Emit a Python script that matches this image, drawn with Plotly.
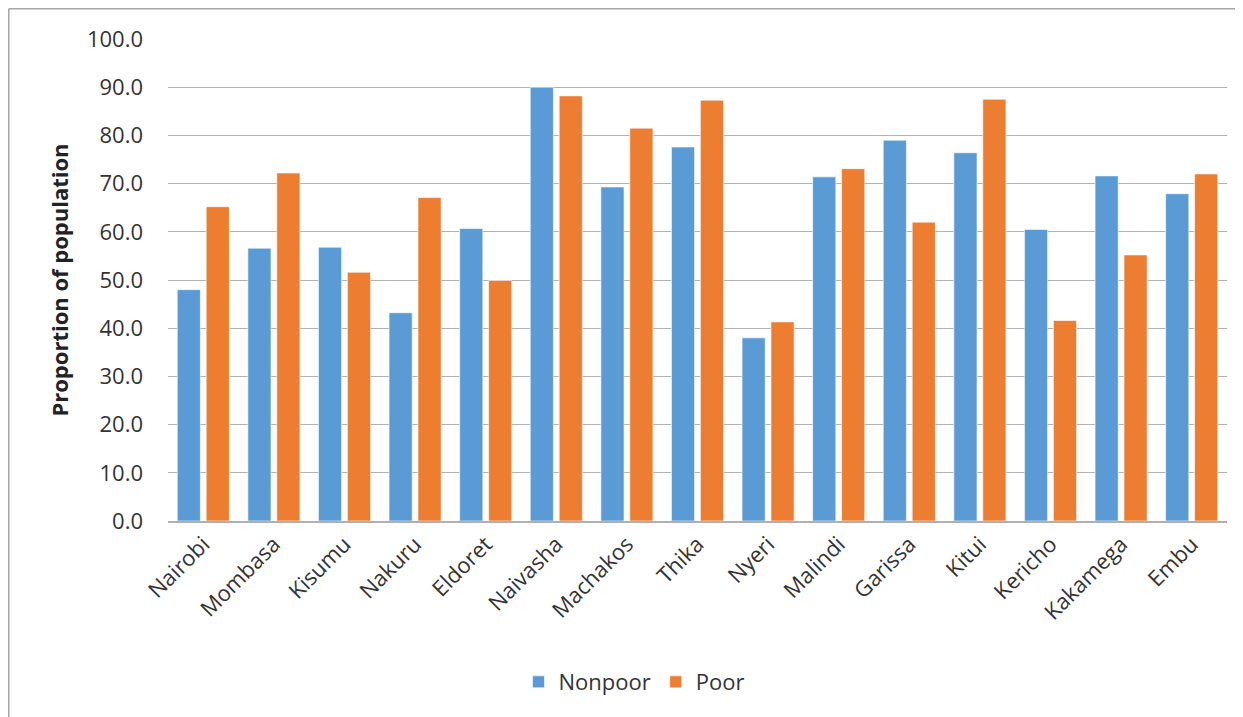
import plotly.graph_objects as go

cities = ["Nairobi", "Mombasa", "Kisumu", "Nakuru", "Eldoret", "Naivasha", "Machakos",
          "Thika", "Nyeri", "Malindi", "Garissa", "Kitui", "Kericho", "Kakamega", "Embu"]
nonpoor = [48.0, 56.6, 56.8, 43.2, 60.7, 90.0, 69.3, 77.6, 38.0, 71.4, 79.0, 76.4, 60.5, 71.6, 67.9]
poor = [65.2, 72.2, 51.6, 67.1, 49.9, 88.2, 81.5, 87.3, 41.3, 73.1, 62.0, 87.5, 41.6, 55.2, 72.0]
yticks = [0, 10, 20, 30, 40, 50, 60, 70, 80, 90, 100]

font_family = "Open Sans"
txt = "#333333"

fig = go.Figure()
fig.add_trace(go.Bar(name="Nonpoor", x=cities, y=nonpoor, marker=dict(color="#5B9BD5", line=dict(color="#FFFFFF", width=0.6))))
fig.add_trace(go.Bar(name="Poor", x=cities, y=poor, marker=dict(color="#ED7D31", line=dict(color="#FFFFFF", width=0.6))))

# page is offset by the 8px default body margin
OFF = 8
W, H = 1243, 717
L, T = 168 - OFF, 39 - OFF
R = W - (1227 - OFF)
B = H - (521 - OFF)
pw = W - L - R
ph = H - T - B

def px2x(px):
    return (px - OFF - L) / pw

def py2y(py):
    return (H - B - (py - OFF)) / ph

fig.update_layout(
    width=W, height=H,
    margin=dict(l=L, r=R, t=T, b=B),
    paper_bgcolor="white", plot_bgcolor="white",
    barmode="group", bargap=0.18, bargroupgap=0.2,
    font=dict(family=font_family, color=txt, size=22),
    showlegend=True,
    legend=dict(orientation="h", x=px2x(634), xanchor="center", y=py2y(682), yanchor="middle",
                font=dict(size=22, color=txt), itemwidth=30, traceorder="normal"),
    xaxis=dict(tickangle=-45, tickfont=dict(size=22, color=txt), showgrid=False,
               showline=True, linecolor="#B0B0B0", linewidth=1.5, ticks=""),
    yaxis=dict(range=[0, 100], tickvals=yticks, ticktext=[f"{v:.1f}" for v in yticks],
               tickfont=dict(size=22, color=txt), showgrid=True, gridcolor="#B3B3B3", gridwidth=1.3,
               zeroline=False, showline=False, ticks="", ticklabelstandoff=24,
               title=dict(text="<b>Proportion of population</b>", font=dict(size=22, color="#222222"), standoff=12)),
    shapes=[
        dict(type="line", xref="paper", yref="paper", x0=px2x(8.75), x1=px2x(1260), y0=py2y(8.75), y1=py2y(8.75),
             line=dict(color="#A6A6A6", width=1.5)),
        dict(type="line", xref="paper", yref="paper", x0=px2x(8.75), x1=px2x(8.75), y0=py2y(8.75), y1=py2y(730),
             line=dict(color="#A6A6A6", width=1.5)),
    ],
)

fig.write_html("out.html")
